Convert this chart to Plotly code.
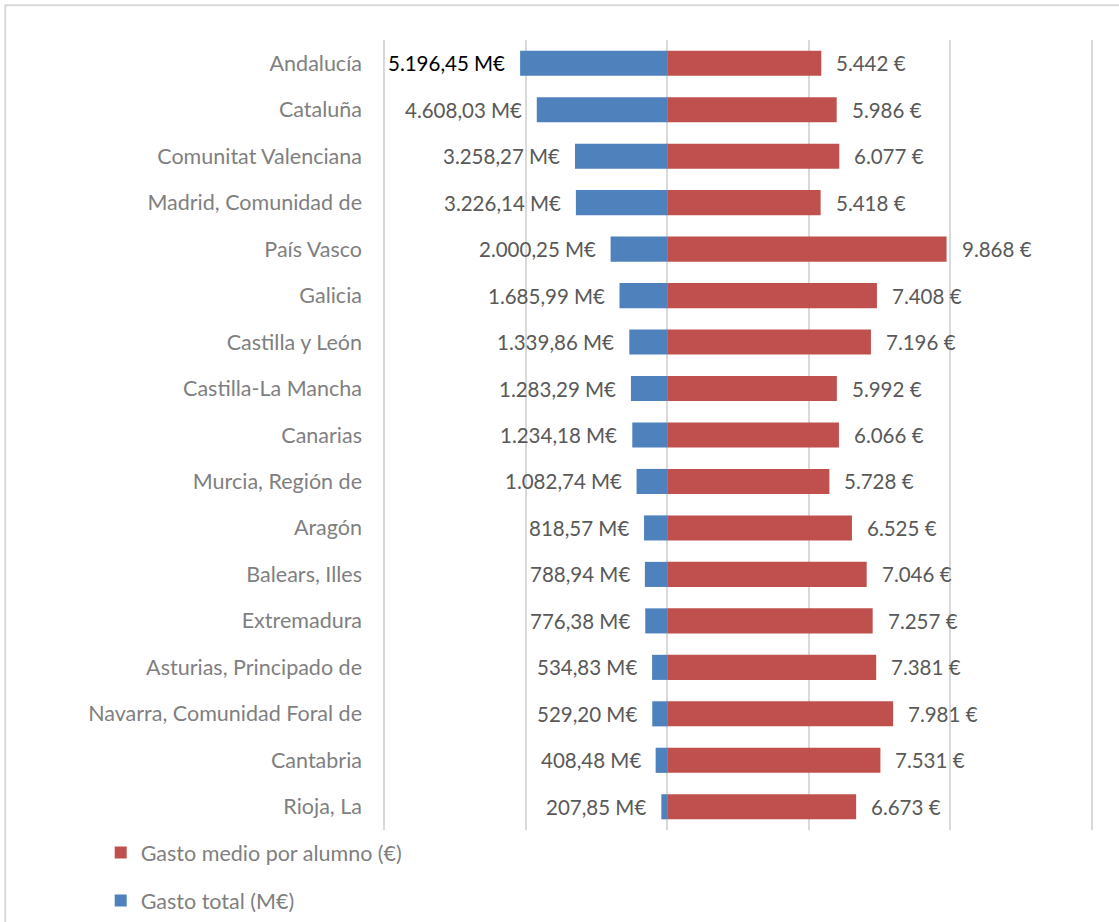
import plotly.graph_objects as go

# Comunidades autónomas, ordered by total spending
regiones = [
    "Andalucía", "Cataluña", "Comunitat Valenciana", "Madrid, Comunidad de",
    "País Vasco", "Galicia", "Castilla y León", "Castilla-La Mancha",
    "Canarias", "Murcia, Región de", "Aragón", "Balears, Illes",
    "Extremadura", "Asturias, Principado de", "Navarra, Comunidad Foral de",
    "Cantabria", "Rioja, La",
]

# Gasto total (millones de euros)
gasto_total = [
    5196.45, 4608.03, 3258.27, 3226.14, 2000.25, 1685.99, 1339.86, 1283.29,
    1234.18, 1082.74, 818.57, 788.94, 776.38, 534.83, 529.20, 408.48, 207.85,
]

# Gasto medio por alumno (euros)
gasto_alumno = [
    5442, 5986, 6077, 5418, 9868, 7408, 7196, 5992,
    6066, 5728, 6525, 7046, 7257, 7381, 7981, 7531, 6673,
]

AZUL = "#4F81BD"
ROJO = "#C0504D"
GRIS_TEXTO = "#595959"
GRIS_EJE = "#7F7F7F"
GRIS_REJILLA = "#D9D9D9"
FUENTE = "Lato"
TAM_EJE = 21.5
TAM_DATO = 20.5


def fmt_es(valor, decimales):
    """Spanish number format: '.' for thousands, ',' for decimals."""
    s = f"{valor:,.{decimales}f}"
    return s.replace(",", "X").replace(".", ",").replace("X", ".")


fig = go.Figure()

fig.add_trace(go.Bar(
    y=regiones,
    x=[-v for v in gasto_total],
    orientation="h",
    name="Gasto total (M€)",
    marker=dict(color=AZUL, line=dict(width=0)),
    legendrank=2,
    legendgroup="total",
    hoverinfo="skip",
))

fig.add_trace(go.Bar(
    y=regiones,
    x=gasto_alumno,
    orientation="h",
    name="Gasto medio por alumno (€)",
    marker=dict(color=ROJO, line=dict(width=0)),
    legendrank=1,
    legendgroup="alumno",
    hoverinfo="skip",
))

anotaciones = []
for i, (reg, tot, alu) in enumerate(zip(regiones, gasto_total, gasto_alumno)):
    anotaciones.append(dict(
        x=-tot, y=reg, xref="x", yref="y",
        text=fmt_es(tot, 2) + " M€",
        xanchor="right", xshift=-13, showarrow=False,
        font=dict(family=FUENTE, size=TAM_DATO,
                  color="#000000" if i == 0 else GRIS_TEXTO),
    ))
    anotaciones.append(dict(
        x=alu, y=reg, xref="x", yref="y",
        text=fmt_es(alu, 0) + " €",
        xanchor="left", xshift=13, showarrow=False,
        font=dict(family=FUENTE, size=TAM_DATO, color=GRIS_TEXTO),
    ))

fig.update_layout(
    width=1119,
    height=922,
    paper_bgcolor="white",
    plot_bgcolor="white",
    barmode="relative",
    bargap=0.46,
    margin=dict(l=383, r=26, t=40, b=92, autoexpand=False),
    font=dict(family=FUENTE, size=TAM_EJE, color=GRIS_EJE),
    annotations=anotaciones,
    showlegend=True,
    legend=dict(
        orientation="v",
        xref="container", yref="container",
        x=0.090, xanchor="left",
        y=0.0975, yanchor="top",
        traceorder="grouped",
        tracegroupgap=17,
        font=dict(family=FUENTE, size=TAM_EJE, color=GRIS_EJE),
        bgcolor="rgba(0,0,0,0)",
    ),
    shapes=[dict(
        type="rect", xref="paper", yref="paper",
        x0=-0.532, x1=1.2, y0=-0.3, y1=1.044,
        line=dict(color=GRIS_REJILLA, width=2),
        fillcolor="rgba(0,0,0,0)",
        layer="below",
    )],
)

fig.update_xaxes(
    range=[-10040, 15040],
    dtick=5000,
    tick0=0,
    showticklabels=False,
    showgrid=True,
    gridcolor=GRIS_REJILLA,
    gridwidth=1.5,
    zeroline=True,
    zerolinecolor=GRIS_REJILLA,
    zerolinewidth=1.5,
    showline=False,
    fixedrange=True,
)

fig.update_yaxes(
    type="category",
    categoryorder="array",
    categoryarray=regiones,
    autorange="reversed",
    showgrid=False,
    showline=False,
    ticks="",
    ticklabelstandoff=20,
    tickfont=dict(family=FUENTE, size=TAM_EJE, color=GRIS_EJE),
    fixedrange=True,
)

fig.write_html("out.html")
